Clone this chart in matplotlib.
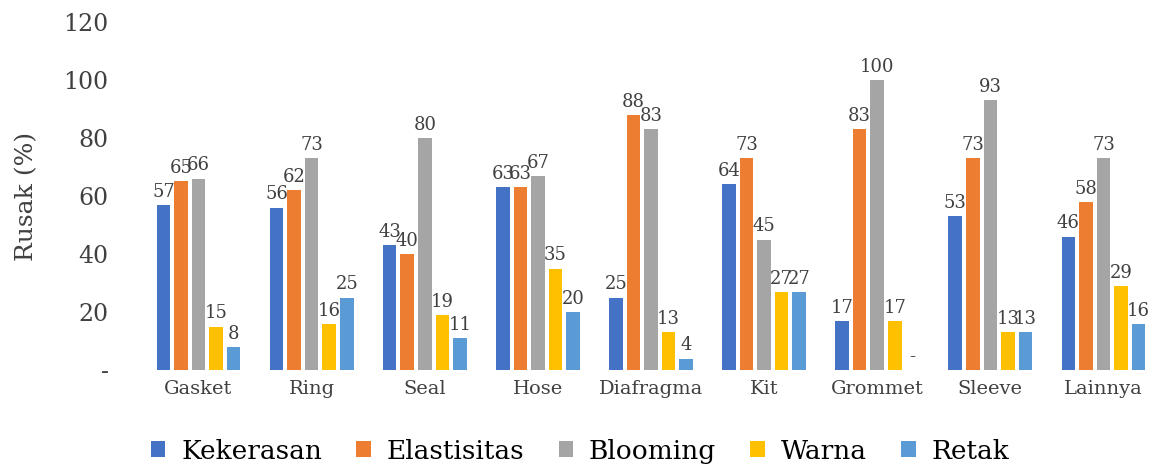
import numpy as np
import matplotlib
matplotlib.use("Agg")
import matplotlib.pyplot as plt

# kerusakan produk karet per kategori
categories = ["Gasket", "Ring", "Seal", "Hose", "Diafragma", "Kit", "Grommet", "Sleeve", "Lainnya"]
kekerasan = [57, 56, 43, 63, 25, 64, 17, 53, 46]
elastisitas = [65, 62, 40, 63, 88, 73, 83, 73, 58]
blooming = [66, 73, 80, 67, 83, 45, 100, 93, 73]
warna = [15, 16, 19, 35, 13, 27, 17, 13, 29]
retak = [8, 25, 11, 20, 4, 27, 0, 13, 16]

series_names = ["Kekerasan", "Elastisitas", "Blooming", "Warna", "Retak"]
colors = ["#4472C4", "#ED7D31", "#A5A5A5", "#FFC000", "#5B9BD5"]
yticks = [0, 20, 40, 60, 80, 100, 120]

serif = "DejaVu Serif"
txt = "#404040"

fig = plt.figure(figsize=(11.54, 4.65), dpi=100)
ax = fig.add_axes([142 / 1154, 0.204, 1018 / 1154, 0.749])

x = np.arange(len(categories))
step = 0.155
width = 0.12
all_series = [kekerasan, elastisitas, blooming, warna, retak]

for i, (vals, name, col) in enumerate(zip(all_series, series_names, colors)):
    pos = x + (i - 2) * step
    bars = ax.bar(pos, vals, width=width, color=col, label=name)
    labels = ["-" if v == 0 else str(v) for v in vals]
    ax.bar_label(bars, labels=labels, padding=3, fontsize=13,
                 family=serif, color=txt)

ax.set_xlim(-0.5, len(categories) - 0.5)
ax.set_ylim(0, 120)
ax.set_yticks(yticks)
ax.set_yticklabels(["-" if t == 0 else str(t) for t in yticks],
                   fontsize=17, family=serif, color=txt)
ax.set_xticks(x)
ax.set_xticklabels(categories, fontsize=14, family=serif, color=txt)
ax.tick_params(axis="both", length=0)
ax.tick_params(axis="x", pad=7)
ax.tick_params(axis="y", pad=24)
for s in ax.spines.values():
    s.set_visible(False)

ax.set_ylabel("Rusak (%)", fontsize=18, family=serif, color=txt)
ax.yaxis.set_label_coords((38 - 142) / 1018, 0.5)

fig.legend(*ax.get_legend_handles_labels(), loc="center",
           bbox_to_anchor=(580 / 1154, 14 / 465), ncol=5, frameon=False,
           prop={"family": serif, "size": 19},
           handlelength=0.55, handleheight=0.55, handletextpad=0.6,
           columnspacing=1.3, borderpad=0, borderaxespad=0)

fig.savefig("out.png", dpi=100)
